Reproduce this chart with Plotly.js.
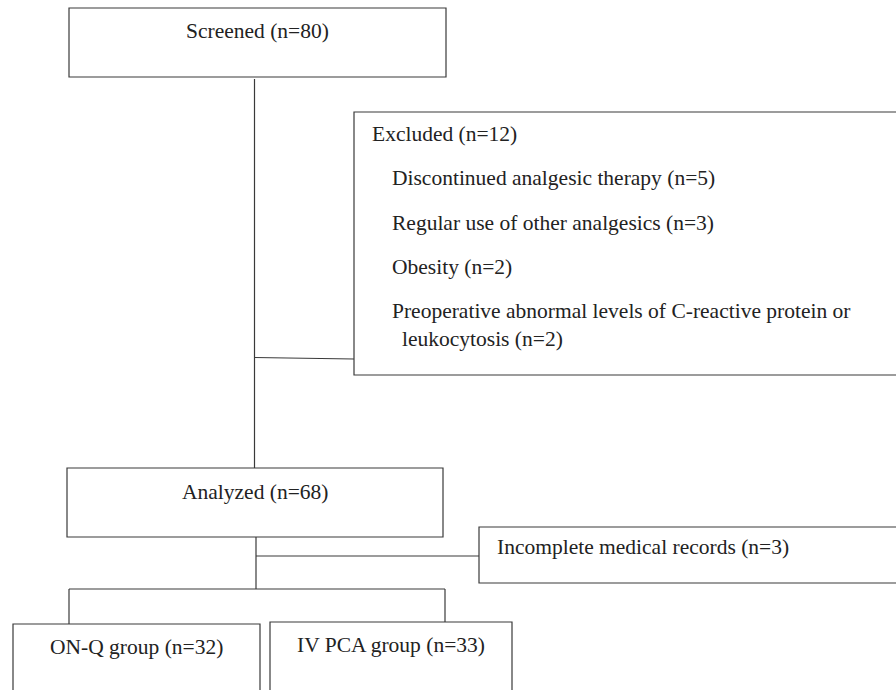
<!DOCTYPE html>
<html>
<head>
<meta charset="utf-8">
<script src="https://cdn.plot.ly/plotly-3.0.1.min.js"></script>
<style>
html,body{margin:0;padding:0;background:#fff;}
#chart{width:896px;height:690px;}
</style>
</head>
<body>
<div id="chart"></div>
<script>
// ---- data ----
const stageLabels = ['Screened', 'Analyzed', 'ON-Q group', 'IV PCA group'];
const stageCounts = [80, 68, 32, 33];
const excludedLabel = 'Excluded';
const excludedCount = 12;
const exclusionReasons = [
  ['Discontinued analgesic therapy'],
  ['Regular use of other analgesics'],
  ['Obesity'],
  ['Preoperative abnormal levels of C-reactive protein or', 'leukocytosis']
];
const exclusionCounts = [5, 3, 2, 2];
const lostLabel = 'Incomplete medical records';
const lostCount = 3;

// ---- layout (pixel geometry) ----
const LINE = {color: '#3a3a3a', width: 1.2};
const FONT = {family: 'Liberation Serif, Times New Roman, serif', size: 21.5, color: '#222'};

const stageBoxes = [
  {x0: 69, x1: 446, y0: 8, y1: 77, ty: 31},
  {x0: 67, x1: 443, y0: 468, y1: 537, ty: 492},
  {x0: 13, x1: 260, y0: 624, y1: 710, ty: 647},
  {x0: 270, x1: 512, y0: 622, y1: 710, ty: 645}
];
const excludedBox = {x0: 354, x1: 905, y0: 112, y1: 375};
const lostBox = {x0: 479, x1: 905, y0: 527, y1: 583};

const shapes = [];
const annotations = [];
function rect(b) {
  shapes.push({type: 'rect', xref: 'x', yref: 'y', x0: b.x0, x1: b.x1, y0: b.y0, y1: b.y1, line: LINE, fillcolor: 'rgba(0,0,0,0)'});
}
function line(x0, y0, x1, y1) {
  shapes.push({type: 'line', xref: 'x', yref: 'y', x0: x0, y0: y0, x1: x1, y1: y1, line: LINE});
}
function text(x, y, s, anchor) {
  annotations.push({xref: 'x', yref: 'y', x: x, y: y, text: s, showarrow: false,
    xanchor: anchor || 'left', yanchor: 'middle', font: FONT, align: 'left'});
}

stageBoxes.forEach((b, i) => {
  rect(b);
  text((b.x0 + b.x1) / 2, b.ty, stageLabels[i] + ' (n=' + stageCounts[i] + ')', 'center');
});

// connectors
line(254.5, 79, 254.5, 468);
line(254.5, 357.5, 354, 359);
line(256, 537, 256, 589);
line(256, 556, 479, 556);
line(69, 589, 445, 589);
line(69, 589, 69, 624);
line(445, 589, 445, 622);

// exclusion box
rect(excludedBox);
text(370, 134, excludedLabel + ' (n=' + excludedCount + ')');
const reasonY = [178, 223, 267, 311];
exclusionReasons.forEach((lines, i) => {
  lines.forEach((ln, j) => {
    const last = j === lines.length - 1;
    const s = last ? ln + ' (n=' + exclusionCounts[i] + ')' : ln;
    text(j === 0 ? 390 : 400, reasonY[i] + j * 27.5, s);
  });
});

// lost box
rect(lostBox);
text(495, 547, lostLabel + ' (n=' + lostCount + ')');

const layout = {
  width: 896, height: 690,
  margin: {l: 0, r: 0, t: 0, b: 0},
  paper_bgcolor: '#fff', plot_bgcolor: '#fff',
  showlegend: false,
  xaxis: {range: [0, 896], visible: false, fixedrange: true},
  yaxis: {range: [690, 0], visible: false, fixedrange: true},
  shapes: shapes,
  annotations: annotations
};

Plotly.newPlot('chart', [], layout, {displayModeBar: false, staticPlot: true});
</script>
</body>
</html>
